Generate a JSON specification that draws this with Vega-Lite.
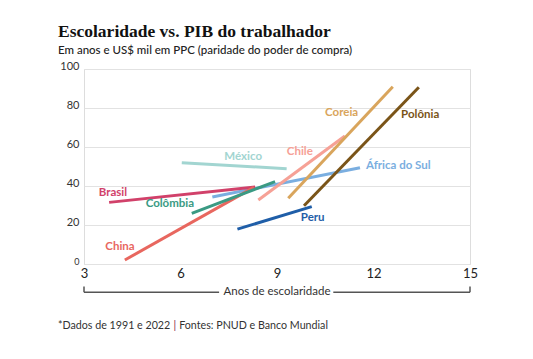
{
  "$schema": "https://vega.github.io/schema/vega-lite/v6.json",
  "width": 386,
  "height": 195,
  "autosize": {"type": "none"},
  "padding": {"left": 84, "top": 69, "right": 63, "bottom": 95},
  "background": "white",
  "title": {
    "text": "Escolaridade vs. PIB do trabalhador",
    "subtitle": "Em anos e US$ mil em PPC (paridade do poder de compra)",
    "anchor": "start",
    "frame": "group",
    "dx": -26,
    "offset": 4,
    "font": "Liberation Serif",
    "fontSize": 17.5,
    "fontWeight": "bold",
    "color": "#111111",
    "subtitleFont": "Lato",
    "subtitleFontSize": 11.5,
    "subtitleFontWeight": 500,
    "subtitleColor": "#222222",
    "subtitlePadding": 4
  },
  "datasets": {
    "lines": [
      {"country": "África do Sul", "anos": 6.99, "pib": 34.4},
      {"country": "África do Sul", "anos": 11.58, "pib": 49.4},
      {"country": "México", "anos": 6.04, "pib": 51.9},
      {"country": "México", "anos": 9.30, "pib": 48.9},
      {"country": "Brasil", "anos": 3.78, "pib": 31.6},
      {"country": "Brasil", "anos": 8.32, "pib": 39.5},
      {"country": "China", "anos": 4.27, "pib": 2.05},
      {"country": "China", "anos": 8.28, "pib": 39.3},
      {"country": "Colômbia", "anos": 6.35, "pib": 26.0},
      {"country": "Colômbia", "anos": 8.94, "pib": 42.2},
      {"country": "Peru", "anos": 7.77, "pib": 17.9},
      {"country": "Peru", "anos": 10.08, "pib": 29.4},
      {"country": "Chile", "anos": 8.42, "pib": 32.8},
      {"country": "Chile", "anos": 11.11, "pib": 65.6},
      {"country": "Coreia", "anos": 9.35, "pib": 33.7},
      {"country": "Coreia", "anos": 12.60, "pib": 90.9},
      {"country": "Polônia", "anos": 9.84, "pib": 29.9},
      {"country": "Polônia", "anos": 13.41, "pib": 90.6}
    ],
    "labels": [
      {"country": "Brasil", "anos": 3.90, "pib": 36.6},
      {"country": "Colômbia", "anos": 5.67, "pib": 30.6},
      {"country": "China", "anos": 4.12, "pib": 8.6},
      {"country": "México", "anos": 7.95, "pib": 55.0},
      {"country": "Chile", "anos": 9.71, "pib": 57.6},
      {"country": "Coreia", "anos": 11.01, "pib": 77.3},
      {"country": "Polônia", "anos": 13.45, "pib": 76.4},
      {"country": "África do Sul", "anos": 12.77, "pib": 50.4},
      {"country": "Peru", "anos": 10.11, "pib": 23.4}
    ],
    "bracket": [
      {"anos": 3, "anos2": 7.2, "pib": -14.5, "pib2": -14.5},
      {"anos": 10.75, "anos2": 15, "pib": -14.5, "pib2": -14.5},
      {"anos": 3, "anos2": 3, "pib": -11.6, "pib2": -14.5},
      {"anos": 15, "anos2": 15, "pib": -11.6, "pib2": -14.5}
    ],
    "notes": [
      {"text": "*Dados de 1991 e 2022", "anos": 2.19, "pib": -31.8, "c": "#333333"},
      {"text": "|", "anos": 5.78, "pib": -31.8, "c": "#8a2a4a"},
      {"text": "Fontes: PNUD e Banco Mundial", "anos": 5.96, "pib": -31.8, "c": "#333333"}
    ],
    "axisTitle": [
      {"text": "Anos de escolaridade", "anos": 9, "pib": -14.5}
    ]
  },
  "encoding": {
    "x": {
      "field": "anos", "type": "quantitative",
      "scale": {"domain": [3, 15], "nice": false, "zero": false},
      "axis": {
        "values": [3, 6, 9, 12, 15],
        "title": null,
        "domain": false,
        "ticks": false,
        "grid": false,
        "labelFont": "Lato",
        "labelFontSize": 13,
        "labelColor": "#222222",
        "labelPadding": 3,
        "labelFlush": false,
        "labelOverlap": false
      }
    },
    "y": {
      "field": "pib", "type": "quantitative",
      "scale": {"domain": [0, 100], "nice": false, "zero": false},
      "axis": {
        "values": [0, 20, 40, 60, 80, 100],
        "title": null,
        "domain": false,
        "ticks": false,
        "grid": true,
        "gridColor": "#e2e2e2",
        "gridWidth": 1.2,
        "labelFont": "Lato",
        "labelFontSize": {"condition": {"test": "datum.value === 0", "value": 9}, "value": 11},
        "labelColor": "#333333",
        "labelBaseline": "alphabetic",
        "labelPadding": 5,
        "labelOverlap": false,
        "labelFlush": false
      }
    }
  },
  "layer": [
    {
      "data": {"name": "lines"},
      "mark": {"type": "line", "strokeWidth": 3, "strokeCap": "butt"},
      "encoding": {
        "color": {
          "field": "country", "type": "nominal",
          "scale": {
            "domain": ["Brasil", "China", "Colômbia", "México", "África do Sul", "Peru", "Chile", "Coreia", "Polônia"],
            "range": ["#d1416a", "#e8675f", "#3a9a83", "#a2d5d1", "#7aaee0", "#1f5ea8", "#f6a196", "#d9a55c", "#7a5418"]
          },
          "legend": null
        },
        "detail": {"field": "country"}
      }
    },
    {
      "data": {"name": "labels"},
      "mark": {"type": "text", "font": "Lato", "fontSize": 11.5, "fontWeight": "bold", "align": "center", "baseline": "middle"},
      "encoding": {
        "text": {"field": "country"},
        "color": {
          "field": "country", "type": "nominal",
          "scale": {
            "domain": ["Brasil", "China", "Colômbia", "México", "África do Sul", "Peru", "Chile", "Coreia", "Polônia"],
            "range": ["#c83a60", "#e25f58", "#338a77", "#8fcac6", "#6ea5da", "#22589a", "#f39488", "#d29b52", "#6e4c17"]
          },
          "legend": null
        }
      }
    },
    {
      "data": {"name": "bracket"},
      "mark": {"type": "rule", "color": "#555555", "strokeWidth": 1.5},
      "encoding": {
        "x2": {"field": "anos2"},
        "y2": {"field": "pib2"}
      }
    },
    {
      "data": {"name": "axisTitle"},
      "mark": {"type": "text", "font": "Lato", "fontSize": 11.5, "color": "#333333", "align": "center", "baseline": "middle"},
      "encoding": {
        "text": {"field": "text"}
      }
    },
    {
      "data": {"name": "notes"},
      "mark": {"type": "text", "font": "Lato", "fontSize": 10.7, "align": "left", "baseline": "middle"},
      "encoding": {
        "text": {"field": "text"},
        "color": {"field": "c", "type": "nominal", "scale": null}
      }
    }
  ]
}
